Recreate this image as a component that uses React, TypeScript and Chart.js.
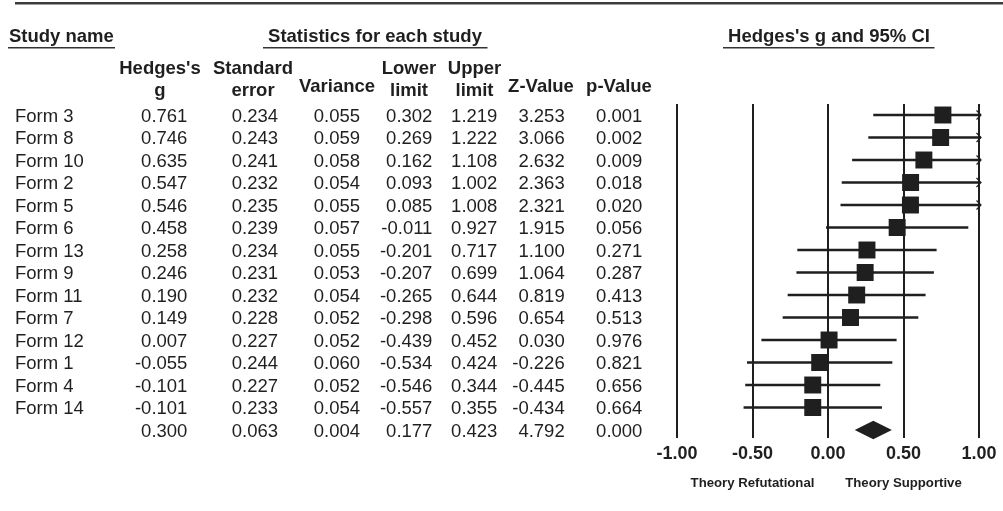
import { useEffect, useRef } from "react";
import { Chart, registerables } from "chart.js";

Chart.register(...registerables);

// ---------------- data ----------------
const studyNames = [
  "Form 3", "Form 8", "Form 10", "Form 2", "Form 5", "Form 6", "Form 13",
  "Form 9", "Form 11", "Form 7", "Form 12", "Form 1", "Form 4", "Form 14",
];
const hedgesG = [0.761, 0.746, 0.635, 0.547, 0.546, 0.458, 0.258, 0.246, 0.19, 0.149, 0.007, -0.055, -0.101, -0.101];
const stdError = [0.234, 0.243, 0.241, 0.232, 0.235, 0.239, 0.234, 0.231, 0.232, 0.228, 0.227, 0.244, 0.227, 0.233];
const variance = [0.055, 0.059, 0.058, 0.054, 0.055, 0.057, 0.055, 0.053, 0.054, 0.052, 0.052, 0.06, 0.052, 0.054];
const lowerLimit = [0.302, 0.269, 0.162, 0.093, 0.085, -0.011, -0.201, -0.207, -0.265, -0.298, -0.439, -0.534, -0.546, -0.557];
const upperLimit = [1.219, 1.222, 1.108, 1.002, 1.008, 0.927, 0.717, 0.699, 0.644, 0.596, 0.452, 0.424, 0.344, 0.355];
const zValue = [3.253, 3.066, 2.632, 2.363, 2.321, 1.915, 1.1, 1.064, 0.819, 0.654, 0.03, -0.226, -0.445, -0.434];
const pValue = [0.001, 0.002, 0.009, 0.018, 0.02, 0.056, 0.271, 0.287, 0.413, 0.513, 0.976, 0.821, 0.656, 0.664];

// summary (overall) row
const summaryG = 0.3;
const summaryStdError = 0.063;
const summaryVariance = 0.004;
const summaryLower = 0.177;
const summaryUpper = 0.423;
const summaryZ = 4.792;
const summaryP = 0.0;

const xTickValues = [-1, -0.5, 0, 0.5, 1];
const footerLabels = ["Theory Refutational", "Theory Supportive"];
const footerValues = [-0.5, 0.5];

const sectionTitles = ["Study name", "Statistics for each study", "Hedges's g and 95% CI"];

// ---------------- layout / style ----------------
const W = 1003;
const H = 511;
const FONT = '"Liberation Sans", Arial, Helvetica, sans-serif';
const INK = "#1f1f1f";
const PLOT_LEFT = 677;
const PLOT_RIGHT = 979;
const PLOT_TOP = 104;
const PLOT_BOTTOM = 438;
const ROW0 = 115;
const ROW_STEP = 22.5;
const TICK_PAD = 5.5;
const Y_MIN = -(ROW0 - PLOT_TOP) / ROW_STEP;
const Y_MAX = Y_MIN + (PLOT_BOTTOM - PLOT_TOP) / ROW_STEP;
const X_AXIS_H = 18 * 1.2 + 2 * TICK_PAD;

const columns = [
  { head: ["Hedges's", "g"], hx: 160, rx: 187.4, vals: hedgesG, sum: summaryG },
  { head: ["Standard", "error"], hx: 253, rx: 278, vals: stdError, sum: summaryStdError },
  { head: ["Variance"], hx: 337, rx: 360, vals: variance, sum: summaryVariance },
  { head: ["Lower", "limit"], hx: 409, rx: 432.4, vals: lowerLimit, sum: summaryLower },
  { head: ["Upper", "limit"], hx: 474.5, rx: 497.4, vals: upperLimit, sum: summaryUpper },
  { head: ["Z-Value"], hx: 541, rx: 564.7, vals: zValue, sum: summaryZ },
  { head: ["p-Value"], hx: 619, rx: 642.4, vals: pValue, sum: summaryP },
];

const forestPlugin = {
  id: "forestTable",
  afterDatasetsDraw(chart: any) {
    const { ctx } = chart;
    const xs = chart.scales.x;
    const ys = chart.scales.y;
    ctx.save();
    ctx.fillStyle = INK;
    ctx.strokeStyle = INK;
    // arrows for intervals beyond the axis
    const tip = xs.getPixelForValue(xs.max) + 2;
    ctx.lineWidth = 1.2;
    upperLimit.forEach((u, i) => {
      if (u > xs.max) {
        const y = ys.getPixelForValue(i);
        ctx.beginPath();
        ctx.moveTo(tip - 4.5, y - 4.5);
        ctx.lineTo(tip, y);
        ctx.lineTo(tip - 4.5, y + 4.5);
        ctx.stroke();
      }
    });
    // summary diamond
    const yS = ys.getPixelForValue(studyNames.length);
    const xl = xs.getPixelForValue(summaryLower);
    const xc = xs.getPixelForValue(summaryG);
    const xr = xs.getPixelForValue(summaryUpper);
    ctx.beginPath();
    ctx.moveTo(xl, yS);
    ctx.lineTo(xc, yS - 9.3);
    ctx.lineTo(xr, yS);
    ctx.lineTo(xc, yS + 9.3);
    ctx.closePath();
    ctx.fill();
    ctx.restore();
  },
  afterDraw(chart: any) {
    const { ctx } = chart;
    const xs = chart.scales.x;
    const ys = chart.scales.y;
    ctx.save();
    // top rule
    ctx.strokeStyle = "#3c3c3c";
    ctx.lineWidth = 2.5;
    ctx.beginPath();
    ctx.moveTo(15, 3.2);
    ctx.lineTo(W, 3.2);
    ctx.stroke();

    ctx.fillStyle = INK;
    ctx.textBaseline = "alphabetic";
    // section titles
    ctx.font = `bold 18.5px ${FONT}`;
    ctx.textAlign = "left";
    ctx.fillText(sectionTitles[0], 9, 42);
    ctx.textAlign = "center";
    ctx.fillText(sectionTitles[1], 375, 42);
    ctx.fillText(sectionTitles[2], (xs.left + xs.right) / 2 + 1, 42);
    // underlines
    ctx.strokeStyle = "#333";
    ctx.lineWidth = 1.5;
    const ul: [number, number][] = [[8, 115], [263, 487.5], [723, 934.5]];
    ul.forEach(([a, b]) => {
      ctx.beginPath();
      ctx.moveTo(a, 47.7);
      ctx.lineTo(b, 47.7);
      ctx.stroke();
    });
    // column headers
    columns.forEach((c) => {
      if (c.head.length === 2) {
        ctx.fillText(c.head[0], c.hx, 74);
        ctx.fillText(c.head[1], c.hx, 95.8);
      } else {
        ctx.fillText(c.head[0], c.hx, 91.6);
      }
    });
    // rows
    ctx.font = `18.5px ${FONT}`;
    const off = 6.6;
    studyNames.forEach((name, i) => {
      const y = ys.getPixelForValue(i) + off;
      ctx.textAlign = "left";
      ctx.fillText(name, 15, y);
      ctx.textAlign = "right";
      columns.forEach((c) => ctx.fillText(c.vals[i].toFixed(3), c.rx, y));
    });
    const yS = ys.getPixelForValue(studyNames.length) + off;
    ctx.textAlign = "right";
    columns.forEach((c) => ctx.fillText(c.sum.toFixed(3), c.rx, yS));
    // footer labels
    ctx.font = `bold 13.2px ${FONT}`;
    ctx.textAlign = "center";
    footerLabels.forEach((t, k) => ctx.fillText(t, xs.getPixelForValue(footerValues[k]), 487));
    ctx.restore();
  },
};

export default function App() {
  const ref = useRef<HTMLCanvasElement | null>(null);
  useEffect(() => {
    if (!ref.current) return;
    const chart = new Chart(ref.current, {
      type: "scatter",
      data: {
        datasets: [
          {
            type: "scatter",
            order: 0,
            data: hedgesG.map((g, i) => ({ x: g, y: i })),
            pointStyle: "rect",
            pointRadius: 12,
            pointHoverRadius: 12,
            pointBorderWidth: 0,
            backgroundColor: INK,
            borderColor: INK,
          } as any,
          {
            type: "bar",
            order: 1,
            indexAxis: "y",
            data: lowerLimit.map((lo, i) => ({ x: [lo, upperLimit[i]], y: i })),
            backgroundColor: INK,
            borderWidth: 0,
            barThickness: 2,
            clip: { left: 0, top: 0, right: 2, bottom: 0 },
          } as any,
        ],
      },
      options: {
        animation: false,
        responsive: false,
        maintainAspectRatio: false,
        events: [],
        layout: {
          padding: {
            left: PLOT_LEFT,
            right: W - PLOT_RIGHT,
            top: PLOT_TOP,
            bottom: H - PLOT_BOTTOM - X_AXIS_H,
          },
        },
        plugins: { legend: { display: false }, tooltip: { enabled: false } },
        scales: {
          x: {
            type: "linear",
            min: -1,
            max: 1,
            afterBuildTicks: (s: any) => {
              s.ticks = xTickValues.map((v) => ({ value: v }));
            },
            grid: { color: INK, lineWidth: 2, drawTicks: false },
            border: { display: false },
            ticks: {
              color: INK,
              padding: TICK_PAD,
              autoSkip: false,
              maxRotation: 0,
              font: { family: FONT, size: 18, weight: "bold" },
              callback: (v: any) => Number(v).toFixed(2),
            },
          },
          y: {
            type: "linear",
            display: false,
            reverse: true,
            min: Y_MIN,
            max: Y_MAX,
            offset: false,
          },
        },
      } as any,
      plugins: [forestPlugin],
    });
    return () => chart.destroy();
  }, []);
  return (
    <div style={{ position: "absolute", left: 0, top: 0, width: W, height: H, background: "#fff" }}>
      <canvas ref={ref} width={W} height={H} style={{ display: "block" }} />
    </div>
  );
}
